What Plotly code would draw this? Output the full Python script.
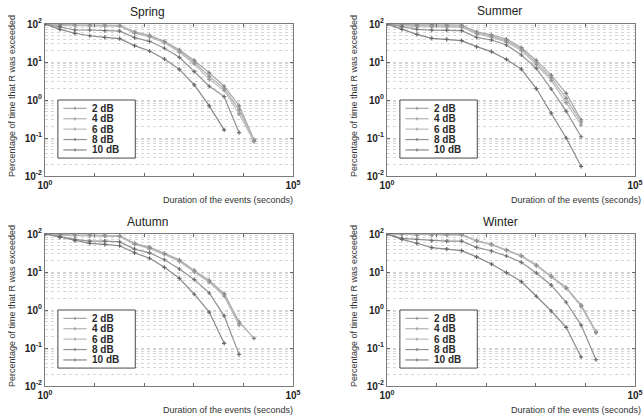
import plotly.graph_objects as go

# Event durations (seconds) at which the exceedance percentage is evaluated
durations = [1, 2, 4, 8, 16, 32, 64, 128, 256, 512, 1024, 2048, 4096, 8192, 16384]
thresholds = ["2 dB", "4 dB", "6 dB", "8 dB", "10 dB"]
seasons = ["Spring", "Summer", "Autumn", "Winter"]

# Percentage of time that R was exceeded, per season and threshold
spring_2db = [100, 95, 94, 93, 93, 92, 62, 50, 35, 21, 11, 5.2, 2.3, 0.70, 0.09]
spring_4db = [100, 93, 92, 91, 91, 90, 60, 48, 33.5, 19.5, 9.8, 4.2, 2.0, 0.55, 0.085]
spring_6db = [100, 91, 90, 89, 89, 88, 57, 46, 32, 18, 8.9, 3.5, 1.8, 0.43, 0.08]
spring_8db = [100, 85, 69.5, 69.5, 67, 65, 43.7, 35, 23, 13.3, 5.6, 2.3, 1.23, 0.138]
spring_10db = [100, 72, 57, 49, 44.6, 41, 27, 19.5, 12, 6.4, 2.5, 0.70, 0.163]

summer_2db = [100, 96, 95, 95, 94, 94, 62, 52, 40, 24, 11, 4.5, 1.5, 0.30]
summer_4db = [100, 93, 90, 90, 89, 88, 58, 48, 36, 22, 9.5, 3.8, 1.1, 0.26]
summer_6db = [100, 90, 85, 85, 84, 83, 55, 45, 33, 20, 8.5, 3.3, 0.85, 0.22]
summer_8db = [100, 85, 72, 69, 69, 67, 44.6, 38, 28, 15.3, 6.8, 1.95, 0.51, 0.108]
summer_10db = [100, 72, 53.5, 42, 39.5, 36.4, 25.3, 18.7, 11.7, 6.5, 2.0, 0.45, 0.10, 0.018]

autumn_2db = [100, 95, 94, 94, 94, 90, 57, 45, 31, 21, 11, 6.0, 2.7, 0.49, 0.18]
autumn_4db = [100, 92, 92, 92, 91, 88, 55, 43, 30, 20, 10.5, 5.7, 2.5, 0.45]
autumn_6db = [100, 90, 90, 90, 89, 86, 53, 41, 29, 19, 10, 5.4, 2.3, 0.40]
autumn_8db = [100, 85, 72, 65, 65, 62, 40, 32, 21, 12, 6.3, 2.8, 0.70, 0.068]
autumn_10db = [100, 82, 67, 57, 53.5, 49, 32, 23, 13.3, 6.8, 2.6, 0.88, 0.133]

winter_2db = [100, 100, 96, 96, 96, 96, 67, 53.5, 38, 27, 15.3, 7.85, 3.9, 1.35, 0.27]
winter_4db = [100, 99, 95, 95, 95, 95, 66, 53, 37.5, 26.5, 15, 7.7, 3.8, 1.3, 0.26]
winter_6db = [100, 98, 94, 94, 94, 94, 65, 52.5, 37, 26, 14.7, 7.5, 3.7, 1.25, 0.25]
winter_8db = [100, 77, 72, 67, 65, 65, 44.6, 35.7, 26.4, 18, 9.4, 4.5, 1.6, 0.40, 0.049]
winter_10db = [100, 72, 57, 43.7, 40, 36.4, 25, 16.2, 9.6, 5.6, 2.3, 0.94, 0.35, 0.058]

y_tick_vals = [0.01, 0.1, 1, 10, 100]
y_tick_text = ["10<sup>-2</sup>", "10<sup>-1</sup>", "10<sup>0</sup>", "10<sup>1</sup>", "10<sup>2</sup>"]
x_tick_vals = [1, 100000]
x_tick_text = ["10<sup>0</sup>", "10<sup>5</sup>"]
x_minor_vals = [10, 100, 1000, 10000]
y_minor_vals = [m * d for d in (0.01, 0.1, 1, 10) for m in range(2, 10)]

season_series = {
    "Spring": [spring_2db, spring_4db, spring_6db, spring_8db, spring_10db],
    "Summer": [summer_2db, summer_4db, summer_6db, summer_8db, summer_10db],
    "Autumn": [autumn_2db, autumn_4db, autumn_6db, autumn_8db, autumn_10db],
    "Winter": [winter_2db, winter_4db, winter_6db, winter_8db, winter_10db],
}

line_colors = ["#a8a8a8", "#b2b2b2", "#bcbcbc", "#929292", "#888888"]
marker_colors = ["#808080", "#8a8a8a", "#949494", "#6e6e6e", "#666666"]

W, H = 644, 420
# panel boxes in pixels: left, right, top, bottom, title x, title y, x-title right edge
panels = {
    "Spring": (45, 293, 24, 176, 147, 12, 295),
    "Summer": (387, 635, 24, 176, 499, 11, 643),
    "Autumn": (45, 293, 234, 386, 147, 222, 295),
    "Winter": (387, 635, 234, 386, 500, 222, 643),
}

FONT = "Liberation Sans, Arial, Helvetica, sans-serif"
fig = go.Figure()
annotations = []
shapes = []

for i, season in enumerate(seasons):
    n = i + 1
    xa = "x" if n == 1 else f"x{n}"
    ya = "y" if n == 1 else f"y{n}"
    left, right, top, bottom, tx, ty, xt_right = panels[season]

    for j, (label, vals) in enumerate(zip(thresholds, season_series[season])):
        fig.add_trace(go.Scatter(
            x=durations[:len(vals)], y=vals, mode="lines+markers", name=label,
            xaxis=xa, yaxis=ya, showlegend=False,
            line=dict(color=line_colors[j], width=1.2),
            marker=dict(symbol="cross-thin", size=3,
                        line=dict(color=marker_colors[j], width=1.2),
                        color=marker_colors[j]),
        ))

    axis_common = dict(
        type="log", showline=True, linecolor="#7a7a7a", linewidth=1,
        mirror="ticks", ticks="inside", ticklen=3, tickcolor="#6a6a6a",
        tickfont=dict(family=FONT, size=10, color="#1e1e1e", weight="bold"),
        automargin=False, zeroline=False,
    )
    fig.layout[f"xaxis{'' if n == 1 else n}"] = dict(
        axis_common, domain=[left / W, right / W], range=[0, 5],
        tickmode="array", tickvals=x_tick_vals, ticktext=x_tick_text,
        showgrid=False, anchor=ya,
        minor=dict(tickmode="array", tickvals=x_minor_vals, ticks="inside",
                   ticklen=3, tickcolor="#6a6a6a", showgrid=False),
    )
    fig.layout[f"yaxis{'' if n == 1 else n}"] = dict(
        axis_common, domain=[1 - bottom / H, 1 - top / H], range=[-2, 2],
        tickmode="array", tickvals=y_tick_vals, ticktext=y_tick_text,
        showgrid=True, gridcolor="#cfcfcf", griddash="dot", gridwidth=1,
        minor=dict(tickmode="array", tickvals=y_minor_vals, showgrid=True,
                   gridcolor="#d6d6d6", griddash="dot", gridwidth=1, ticks=""),
        anchor=xa,
    )

    # panel title and axis titles
    annotations.append(dict(text=season, x=tx / W, y=1 - ty / H, xref="paper", yref="paper",
                            showarrow=False, xanchor="center", yanchor="middle",
                            font=dict(family=FONT, size=12, color="#222")))
    annotations.append(dict(text="Duration of the events (seconds)", x=xt_right / W,
                            y=1 - (bottom + 24) / H, xref="paper", yref="paper",
                            showarrow=False, xanchor="right", yanchor="middle",
                            font=dict(family=FONT, size=9, color="#333")))
    annotations.append(dict(text="Percentage of time that R was exceeded",
                            x=(left - 33) / W, y=1 - ((top + bottom) / 2 - 4) / H,
                            xref="paper", yref="paper", textangle=-90,
                            showarrow=False, xanchor="center", yanchor="middle",
                            font=dict(family=FONT, size=9, color="#333")))

    # legend box in axis-domain units
    xd, yd = f"{xa} domain", f"{ya} domain"
    shapes.append(dict(type="rect", xref=xd, yref=yd, x0=0.052, x1=0.364, y0=0.118, y1=0.5,
                       line=dict(color="#4a4a4a", width=1), fillcolor="white", layer="above"))
    for j, label in enumerate(thresholds):
        yy = 0.445 - j * 0.0684
        shapes.append(dict(type="line", xref=xd, yref=yd, x0=0.074, x1=0.168, y0=yy, y1=yy,
                           line=dict(color=line_colors[j], width=1.2), layer="above"))
        shapes.append(dict(type="line", xref=xd, yref=yd, x0=0.121, x1=0.121,
                           y0=yy - 0.01, y1=yy + 0.01,
                           line=dict(color=marker_colors[j], width=1), layer="above"))
        annotations.append(dict(text=label, xref=xd, yref=yd, x=0.181, y=yy,
                                showarrow=False, xanchor="left", yanchor="middle",
                                font=dict(family=FONT, size=10, color="#2a2a2a", weight="bold")))

fig.update_layout(
    width=W, height=H, margin=dict(l=0, r=0, t=0, b=0),
    paper_bgcolor="white", plot_bgcolor="white",
    annotations=annotations, shapes=shapes, showlegend=False,
)

fig.write_html("out.html", config={"displayModeBar": False})
